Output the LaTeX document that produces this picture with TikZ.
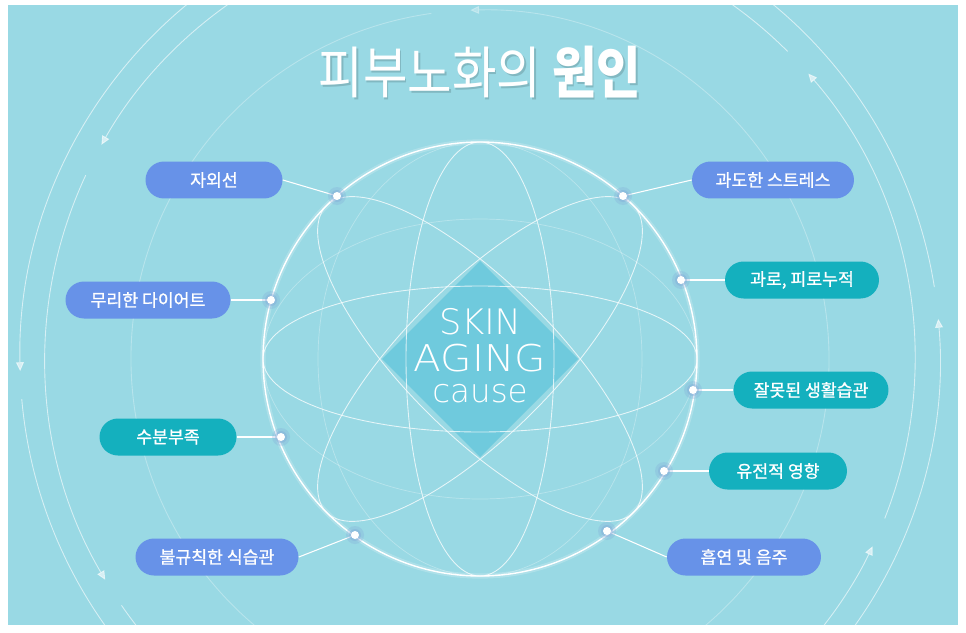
\documentclass[tikz,border=0pt]{standalone}
\usepackage{fontspec}
\newfontfamily\kr{Noto Sans CJK KR}
\newfontfamily\krpill{Noto Sans CJK KR}[FakeBold=1]
\newfontfamily\skinfont{DejaVuSans-ExtraLight.ttf}
\usetikzlibrary{arrows.meta,shapes.misc,shapes.geometric,positioning}

\definecolor{bgcyan}{HTML}{99D9E4}
\definecolor{pillblue}{HTML}{6792E8}
\definecolor{pillteal}{HTML}{14B0BE}
\definecolor{corecyan}{HTML}{6FCADD}
\definecolor{halo}{HTML}{7FA3D6}

\begin{document}
\begin{tikzpicture}[x=0.02cm, y=-0.02cm,
    pill/.style={rounded rectangle, minimum height=0.74cm, inner xsep=0pt, text=white,
      font=\krpill\fontsize{9.8}{11}\selectfont},
    bluepill/.style={pill, fill=pillblue},
    tealpill/.style={pill, fill=pillteal},
    ring/.style={white, opacity=0.6, line width=0.5pt},
    tip/.style={-{Triangle[length=5pt,width=4.5pt]}},
    orbit/.style={white, opacity=0.75, line width=0.5pt},
    faintorbit/.style={white, opacity=0.3, line width=0.4pt},
    corelabel/.style={text=white, anchor=base, inner sep=0pt},
    link/.style={white, line width=0.6pt}]
			%%%%% START %%%%%
			
			\useasboundingbox (0,0) rectangle (966,632);
			\fill[white] (0,0) rectangle (966,632);
			\fill[bgcyan] (8,5) rectangle (958,625);
			\coordinate (c) at (480,359);
			
			%% outer rings
			\begin{scope}
			\clip (8,5) rectangle (958,625);
			\draw[ring, opacity=0.3, tip] (c) ++(262:349) arc[start angle=262, end angle=-91.6, radius=349];
			
			\draw[ring, tip] (c) ++(240:435) arc[start angle=240, end angle=209.5, radius=435];
			\draw[ring, tip] (c) ++(205:435) arc[start angle=205, end angle=149.5, radius=435];
			\draw[ring] (c) ++(145.5:435) arc[start angle=145.5, end angle=130, radius=435];
			\draw[ring, tip] (c) ++(42:435) arc[start angle=42, end angle=25.5, radius=435];
			\draw[ring, tip] (c) ++(21.5:435) arc[start angle=21.5, end angle=-41, radius=435];
			\draw[ring] (c) ++(-45:435) arc[start angle=-45, end angle=-62, radius=435];
			
			\draw[ring, tip] (c) ++(235:460) arc[start angle=235, end angle=178.5, radius=460];
			\draw[ring] (c) ++(175:460) arc[start angle=175, end angle=140, radius=460];
			\draw[ring, tip] (c) ++(40:460) arc[start angle=40, end angle=-5, radius=460];
			\draw[ring] (c) ++(-9:460) arc[start angle=-9, end angle=-55, radius=460];
			\end{scope}
			
			%% core
			\fill[corecyan] (480,261) -- (578,359) -- (480,457) -- (382,359) -- cycle;
			
			%% orbits
			\draw[faintorbit] (c) ellipse[x radius=217, y radius=140];
			\draw[faintorbit] (c) ellipse[x radius=162, y radius=217];
			\draw[orbit] (c) ellipse[x radius=217, y radius=73];
			\draw[orbit] (c) ellipse[x radius=74, y radius=217];
			\draw[orbit, rotate around={45:(c)}] (c) ellipse[x radius=217, y radius=75];
			\draw[orbit, rotate around={-45:(c)}] (c) ellipse[x radius=217, y radius=75];
			\draw[white, opacity=0.2, line width=3pt] (c) circle[radius=217];
			\draw[white, line width=0.8pt] (c) circle[radius=217];
			
			\node[corelabel, font=\skinfont\fontsize{20}{24}\selectfont] (skin) at (480,334) {SKIN};
			\node[corelabel, font=\skinfont\fontsize{21}{24}\selectfont] (aging) at (480,371) {\scalebox{1.1}[1]{AGING}};
			\node[corelabel, font=\skinfont\fontsize{18.5}{24}\selectfont] (cause) at (480,402) {cause};
			
			%% title
			\node[text=bgcyan!50!black, opacity=0.3, font=\kr\fontsize{32}{36}\selectfont] at (481.5,74.5) {\scalebox{0.86}[1]{피부노화의 {\bfseries 원인}}};
			\node[text=white, font=\kr\fontsize{32}{36}\selectfont] (title) at (480,72) {\scalebox{0.86}[1]{피부노화의 {\bfseries 원인}}};
			
			%% causes
			\node[bluepill, minimum width=2.74cm] (uv) at (214,180) {자외선};
			\node[bluepill, minimum width=3.3cm] (diet) at (148,300) {무리한 다이어트};
			\node[tealpill, minimum width=2.74cm] (water) at (168,437) {수분부족};
			\node[bluepill, minimum width=3.26cm] (meal) at (217,557) {불규칙한 식습관};
			
			\node[bluepill, minimum width=3.24cm] (stress) at (773,180) {과도한 스트레스};
			\node[tealpill, minimum width=3.08cm] (fatigue) at (802,280) {과로, 피로누적};
			\node[tealpill, minimum width=3.1cm] (habit) at (811,390) {잘못된 생활습관};
			\node[tealpill, minimum width=2.76cm] (gene) at (778,471) {유전적 영향};
			\node[bluepill, minimum width=3.08cm] (smoke) at (744,557) {흡연 및 음주};
			
			\coordinate (d1) at (337,196);
			\coordinate (d2) at (271,300);
			\coordinate (d3) at (281,437);
			\coordinate (d4) at (355,535);
			\coordinate (d5) at (623,196);
			\coordinate (d6) at (681,280);
			\coordinate (d7) at (693,390);
			\coordinate (d8) at (664,471);
			\coordinate (d9) at (607,531);
			
			\draw[link] (uv.east) -- (d1);
			\draw[link] (diet.east) -- (d2);
			\draw[link] (water.east) -- (d3);
			\draw[link] (meal.east) -- (d4);
			\draw[link] (stress.west) -- (d5);
			\draw[link] (fatigue.west) -- (d6);
			\draw[link] (habit.west) -- (d7);
			\draw[link] (gene.west) -- (d8);
			\draw[link] (smoke.west) -- (d9);
			
			\foreach \d in {d1,d2,d3,d4,d5,d6,d7,d8,d9} {
				\fill[halo, opacity=0.25] (\d) circle[radius=9];
				\fill[halo, opacity=0.35] (\d) circle[radius=6];
				\fill[white] (\d) circle[radius=4];
			}
			
			%%%%% END %%%%%
\end{tikzpicture}
\end{document}
